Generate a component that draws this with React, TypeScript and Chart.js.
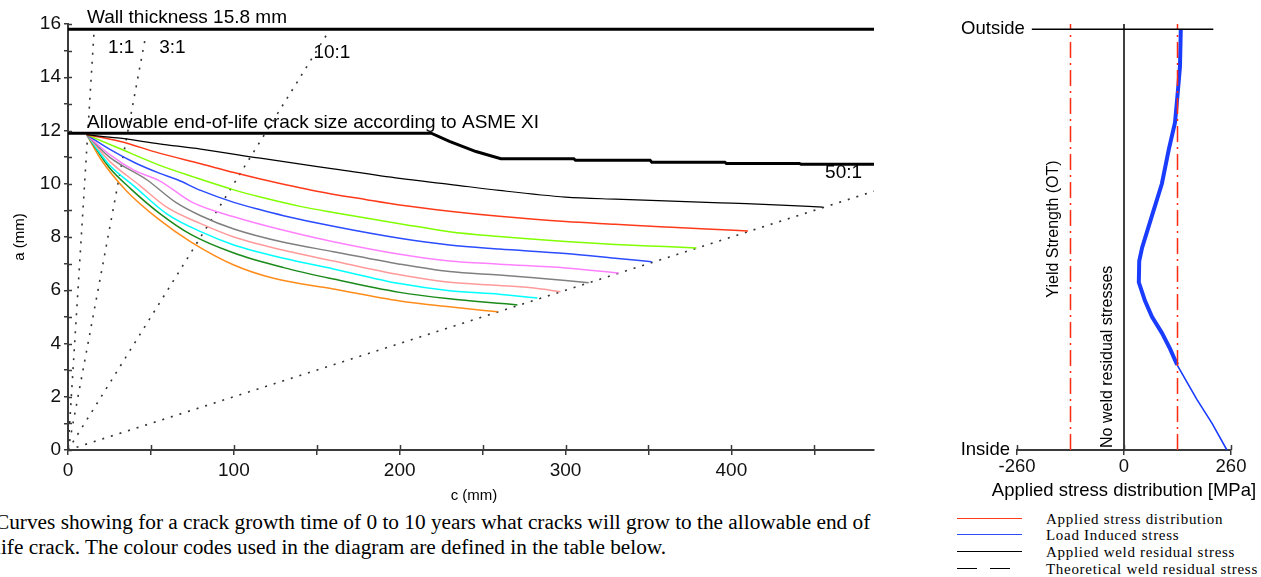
import React, { useEffect, useRef } from 'react';
import { Chart, registerables } from 'chart.js';

Chart.register(...registerables);

const SANS = '"Liberation Sans", Arial, sans-serif';
const SERIF = '"Liberation Serif", "Times New Roman", serif';
const AXIS = '#3a3a3a';

// ---------- left chart: crack size a (mm) vs c (mm) ----------
const xTickValues = [0, 50, 100, 150, 200, 250, 300, 350, 400, 450];
const yTickValues = [0, 1, 2, 3, 4, 5, 6, 7, 8, 9, 10, 11, 12, 13, 14, 15, 16];

const wallC = [0, 486];
const wallA = [15.8, 15.8];

const allowC = [0, 219, 230, 246, 261, 305, 306, 351, 352, 396, 397, 441, 442, 486];
const allowA = [11.9, 11.9, 11.59, 11.21, 10.94, 10.94, 10.88, 10.88, 10.81, 10.81, 10.76, 10.76, 10.73, 10.73];

const ratioNames = ['1:1', '3:1', '10:1', '50:1'];
const ratioEndC = [15.6, 47, 156, 486];
const ratioEndA = [15.6, 15.6, 15.6, 9.72];

// growth-time curves (0 .. 10 years)
const blackC = [11.3, 30, 55, 80, 116, 160, 200, 230, 260, 300, 330, 360, 400, 430, 455];
const blackA = [11.84, 11.72, 11.5, 11.3, 10.96, 10.56, 10.2, 9.98, 9.75, 9.5, 9.42, 9.36, 9.27, 9.2, 9.12];
const redC = [11.3, 31, 55, 80, 100, 116, 150, 180, 200, 230, 260, 300, 330, 360, 385, 410];
const redA = [11.84, 11.6, 11.15, 10.75, 10.42, 10.18, 9.72, 9.4, 9.2, 8.97, 8.78, 8.58, 8.48, 8.38, 8.3, 8.23];
const limeC = [11.3, 30, 55, 76, 100, 116, 140, 160, 200, 230, 260, 300, 330, 360, 379];
const limeA = [11.84, 11.35, 10.7, 10.25, 9.77, 9.5, 9.15, 8.92, 8.5, 8.2, 8.02, 7.83, 7.72, 7.64, 7.59];
const blueC = [11.3, 25, 40, 55, 66, 80, 100, 116, 130, 160, 200, 230, 260, 300, 330, 352];
const blueA = [11.84, 11.3, 10.8, 10.4, 10.15, 9.75, 9.3, 9.02, 8.8, 8.4, 7.95, 7.7, 7.55, 7.38, 7.2, 7.07];
const violetC = [11.3, 25, 40, 55, 75, 100, 130, 160, 200, 230, 260, 300, 332];
const violetA = [11.84, 11.1, 10.5, 10.12, 9.3, 8.76, 8.25, 7.82, 7.35, 7.1, 6.98, 6.84, 6.65];
const grayC = [11.3, 25, 47.5, 65, 80, 100, 130, 160, 200, 230, 260, 281, 300, 314];
const grayA = [11.84, 11.0, 10.15, 9.3, 8.8, 8.3, 7.8, 7.45, 6.98, 6.7, 6.57, 6.47, 6.37, 6.28];
const salmonC = [11.3, 25, 43, 60, 80, 100, 130, 160, 200, 230, 260, 281, 297];
const salmonA = [11.84, 10.85, 9.95, 9.1, 8.5, 8.0, 7.5, 7.1, 6.58, 6.3, 6.18, 6.08, 5.94];
const cyanC = [11.3, 25, 40, 60, 80, 100, 130, 160, 200, 230, 260, 283];
const cyanA = [11.84, 10.7, 9.9, 8.85, 8.2, 7.7, 7.2, 6.8, 6.25, 5.98, 5.85, 5.71];
const dkGreenC = [11.3, 25, 38, 55, 74, 100, 130, 160, 200, 230, 264, 271];
const dkGreenA = [11.84, 10.6, 9.8, 8.9, 8.1, 7.4, 6.85, 6.42, 5.92, 5.68, 5.49, 5.45];
const orangeC = [11.3, 20, 35, 55, 74, 100, 124, 160, 200, 230, 259];
const orangeA = [11.84, 10.9, 9.75, 8.65, 7.82, 6.95, 6.45, 6.05, 5.6, 5.38, 5.19];

const curveColors = ['#000000', '#ff3a1a', '#80ff00', '#2b4cff', '#ff80ff', '#808080', '#ff9a9a', '#00ffff', '#1a8a1a', '#ff8c1a'];

const leftTexts = ['Wall thickness 15.8 mm', '1:1', '3:1', '10:1', 'Allowable end-of-life crack size according to ASME XI', '50:1'];
const leftTextC = [11.5, 24.1, 55, 148, 11.5, 456.5];
const leftTextA = [16.05, 14.92, 14.92, 14.74, 12.1, 10.23];

// ---------- right chart: stress through the wall ----------
const depthA = [15.8, 14.4, 13.5, 12.3, 11.3, 10.0, 8.8, 7.6, 7.1, 6.3, 5.6, 5.0, 4.4, 3.8, 3.2];
const loadStress = [138, 136, 131, 124, 109, 92, 68, 44, 37, 36, 51, 68, 92, 112, 129];
const depthLowA = [3.2, 1.9, 1.0, 0];
const loadStressLow = [129, 177, 214, 250];
const yieldStress = [-130, 130];
const outsideX = [-224, 217];
const rightTicks = [-260, 0, 260];

const legendLabels = ['Applied stress distribution', 'Load Induced stress', 'Applied weld residual stress', 'Theoretical weld residual stress'];
const legendColors = ['#ff3a1a', '#2b4cff', '#000000', '#000000'];

const captionLines = [
  'Curves showing for a crack growth time of 0 to 10 years what cracks will grow to the allowable end of',
  'life crack. The colour codes used in the diagram are defined in the table below.',
];

const pts = (xs: number[], ys: number[]) => xs.map((x, i) => ({ x, y: ys[i] }));

const leftDecor = {
  id: 'leftDecor',
  afterDraw(chart: any) {
    const { ctx } = chart;
    const x = chart.scales.x;
    const y = chart.scales.y;
    ctx.save();
    ctx.strokeStyle = AXIS;
    ctx.lineWidth = 1.5;
    x.ticks.forEach((t: any) => {
      const px = Math.round(x.getPixelForValue(t.value)) + 0.5;
      ctx.beginPath();
      ctx.moveTo(px, y.bottom);
      ctx.lineTo(px, y.bottom - 5);
      ctx.stroke();
    });
    y.ticks.forEach((t: any) => {
      const py = Math.round(y.getPixelForValue(t.value)) + 0.5;
      ctx.beginPath();
      ctx.moveTo(x.left, py);
      ctx.lineTo(x.left + 4, py);
      ctx.stroke();
    });
    ctx.fillStyle = '#000';
    ctx.font = `19px ${SANS}`;
    ctx.textAlign = 'left';
    ctx.textBaseline = 'alphabetic';
    leftTexts.forEach((t, i) => {
      ctx.fillText(t, x.getPixelForValue(leftTextC[i]), y.getPixelForValue(leftTextA[i]));
    });
    ctx.font = `15px ${SANS}`;
    ctx.textAlign = 'center';
    ctx.textBaseline = 'middle';
    ctx.fillText('c (mm)', (x.left + x.right) / 2 + 3, y.bottom + 46);
    ctx.translate(20, (y.top + y.bottom) / 2);
    ctx.rotate(-Math.PI / 2);
    ctx.fillText('a (mm)', 0, 0);
    ctx.restore();
  },
};

const rightDecor = {
  id: 'rightDecor',
  afterDraw(chart: any) {
    const { ctx } = chart;
    const x = chart.scales.x;
    const y = chart.scales.y;
    ctx.save();
    ctx.strokeStyle = AXIS;
    ctx.lineWidth = 1.5;
    x.ticks.forEach((t: any) => {
      const px = Math.round(x.getPixelForValue(t.value)) + 0.5;
      ctx.beginPath();
      ctx.moveTo(px, y.bottom);
      ctx.lineTo(px, y.bottom - 5);
      ctx.stroke();
    });
    ctx.fillStyle = '#000';
    ctx.font = `18.5px ${SANS}`;
    ctx.textAlign = 'right';
    ctx.textBaseline = 'middle';
    ctx.fillText('Outside', x.getPixelForValue(outsideX[0]) - 7, y.getPixelForValue(15.8));
    ctx.fillText('Inside', x.left - 7, y.bottom);
    ctx.textAlign = 'center';
    ctx.fillText('Applied stress distribution [MPa]', (x.left + x.right) / 2, y.bottom + 41);
    ctx.font = `16px ${SANS}`;
    ctx.save();
    ctx.translate(x.getPixelForValue(-170), y.getPixelForValue(8.3));
    ctx.rotate(-Math.PI / 2);
    ctx.fillText('Yield Strength (OT)', 0, 0);
    ctx.restore();
    ctx.save();
    ctx.translate(x.getPixelForValue(-41), y.getPixelForValue(3.5));
    ctx.rotate(-Math.PI / 2);
    ctx.fillText('No weld residual stresses', 0, 0);
    ctx.restore();
    ctx.restore();
  },
};

export default function App() {
  const leftRef = useRef<HTMLCanvasElement>(null);
  const rightRef = useRef<HTMLCanvasElement>(null);

  useEffect(() => {
    const tickFont = { family: SANS, size: 19 };
    const curveSets = [
      [blackC, blackA], [redC, redA], [limeC, limeA], [blueC, blueA], [violetC, violetA],
      [grayC, grayA], [salmonC, salmonA], [cyanC, cyanA], [dkGreenC, dkGreenA], [orangeC, orangeA],
    ];
    const leftDatasets: any[] = [
      { data: pts(wallC, wallA), borderColor: '#000', borderWidth: 3 },
      { data: pts(allowC, allowA), borderColor: '#000', borderWidth: 3 },
      ...curveSets.map((s, i) => ({
        data: pts(s[0], s[1]),
        borderColor: curveColors[i],
        borderWidth: i === 0 ? 1.2 : 1.5,
        cubicInterpolationMode: 'monotone',
      })),
      ...ratioNames.map((_, i) => ({
        data: pts([0, ratioEndC[i]], [0, ratioEndA[i]]),
        borderColor: '#333',
        borderWidth: 1.6,
        borderDash: [2, 7],
      })),
    ];
    const left = new Chart(leftRef.current as HTMLCanvasElement, {
      type: 'scatter',
      data: { datasets: leftDatasets.map((d) => ({ ...d, showLine: true, pointRadius: 0, fill: false })) },
      options: {
        animation: false,
        responsive: false,
        maintainAspectRatio: false,
        devicePixelRatio: 1,
        layout: { padding: { top: 24, right: 26, left: 0, bottom: 0 } },
        plugins: { legend: { display: false }, tooltip: { enabled: false } },
        elements: { line: { tension: 0 }, point: { radius: 0 } },
        scales: {
          x: {
            type: 'linear',
            min: 0,
            max: 486,
            afterBuildTicks: (s: any) => { s.ticks = xTickValues.map((v) => ({ value: v })); },
            afterFit: (s: any) => { s.height = 60; },
            ticks: {
              font: tickFont, color: '#111', padding: 4, maxRotation: 0, autoSkip: false,
              callback: (v: any) => (Number(v) % 100 === 0 ? String(v) : ''),
            },
            grid: { drawOnChartArea: false, drawTicks: true, tickLength: 5, color: AXIS, lineWidth: 1.5 },
            border: { display: true, color: AXIS, width: 2 },
          },
          y: {
            type: 'linear',
            min: 0,
            max: 16,
            afterBuildTicks: (s: any) => { s.ticks = yTickValues.map((v) => ({ value: v })); },
            afterFit: (s: any) => { s.width = 68; },
            ticks: {
              font: tickFont, color: '#111', padding: 3, autoSkip: false,
              callback: (v: any) => (Number(v) % 2 === 0 ? String(v) : ''),
            },
            grid: { drawOnChartArea: false, drawTicks: true, tickLength: 4, color: AXIS, lineWidth: 1.5 },
            border: { display: true, color: AXIS, width: 2 },
          },
        },
      } as any,
      plugins: [leftDecor],
    });

    const rightDatasets: any[] = [
      { data: pts(outsideX, [15.8, 15.8]), borderColor: '#000', borderWidth: 1.5 },
      { data: pts([0, 0], [0, 16]), borderColor: '#000', borderWidth: 1.5 },
      ...yieldStress.map((v) => ({ data: pts([v, v], [0, 16]), borderColor: '#ff2a10', borderWidth: 1.5, borderDash: [16, 5, 2, 5] })),
      { data: pts(loadStress, depthA), borderColor: '#1a3cff', borderWidth: 4 },
      { data: pts(loadStressLow, depthLowA), borderColor: '#1a3cff', borderWidth: 1.6 },
    ];
    const right = new Chart(rightRef.current as HTMLCanvasElement, {
      type: 'scatter',
      data: { datasets: rightDatasets.map((d) => ({ ...d, showLine: true, pointRadius: 0, fill: false })) },
      options: {
        animation: false,
        responsive: false,
        maintainAspectRatio: false,
        devicePixelRatio: 1,
        layout: { padding: { top: 24, right: 30, left: 87, bottom: 0 } },
        plugins: { legend: { display: false }, tooltip: { enabled: false } },
        elements: { line: { tension: 0 }, point: { radius: 0 } },
        scales: {
          x: {
            type: 'linear',
            min: -260,
            max: 260,
            afterBuildTicks: (s: any) => { s.ticks = rightTicks.map((v) => ({ value: v })); },
            afterFit: (s: any) => { s.height = 60; },
            ticks: { font: { family: SANS, size: 18.5 }, color: '#111', padding: 1, maxRotation: 0, autoSkip: false },
            grid: { drawOnChartArea: false, drawTicks: true, tickLength: 5, color: AXIS, lineWidth: 1.5 },
            border: { display: true, color: AXIS, width: 2 },
          },
          y: { type: 'linear', min: 0, max: 16, display: false },
        },
      } as any,
      plugins: [rightDecor],
    });

    return () => {
      left.destroy();
      right.destroy();
    };
  }, []);

  return (
    <div style={{ position: 'absolute', left: 0, top: 0, width: 1261, height: 577, overflow: 'hidden', background: '#fff' }}>
      <canvas ref={leftRef} width={900} height={510} style={{ position: 'absolute', left: 0, top: 0, width: 900, height: 510 }} />
      <canvas ref={rightRef} width={331} height={510} style={{ position: 'absolute', left: 930, top: 0, width: 331, height: 510 }} />
      <div style={{ position: 'absolute', left: -5, top: 510, fontFamily: SERIF, fontSize: 21.3, lineHeight: '25px', color: '#000', whiteSpace: 'nowrap' }}>
        {captionLines.map((l, i) => (<div key={i}>{l}</div>))}
      </div>
      {legendLabels.map((label, i) => (
        <div key={label} style={{ position: 'absolute', left: 0, top: 510.6 + i * 16.7, height: 17 }}>
          {i < 3 ? (
            <div style={{ position: 'absolute', left: 957, top: 7, width: 65, height: 0, borderTop: `1.5px solid ${legendColors[i]}` }} />
          ) : (
            <>
              <div style={{ position: 'absolute', left: 957, top: 7, width: 20, height: 0, borderTop: `1.5px solid ${legendColors[i]}` }} />
              <div style={{ position: 'absolute', left: 990, top: 7, width: 20, height: 0, borderTop: `1.5px solid ${legendColors[i]}` }} />
            </>
          )}
          <div style={{ position: 'absolute', left: 1046, top: 0, fontFamily: SERIF, fontSize: 15, lineHeight: '16.7px', letterSpacing: '0.7px', whiteSpace: 'nowrap', color: '#000' }}>
            {label}
          </div>
        </div>
      ))}
    </div>
  );
}
